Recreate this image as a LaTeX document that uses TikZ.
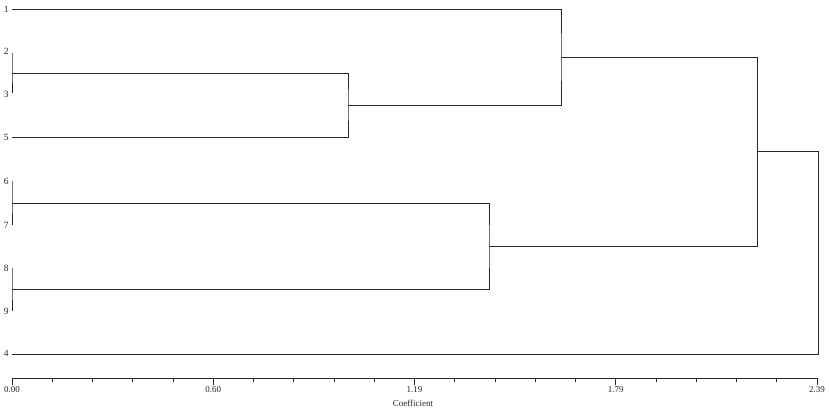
\documentclass[tikz,border=0pt]{standalone}
\usepackage{fontspec}
\setmainfont{Liberation Serif}
\usepackage{tikz}

\begin{document}
\begin{tikzpicture}[x=1pt, y=-1pt, line width=0.95pt, color=black!85,
    leaf/.style={anchor=east, inner sep=0pt, font=\fontsize{9.5}{10}\selectfont},
    ticklab/.style={inner sep=0pt, font=\fontsize{9}{10}\selectfont}]

    \useasboundingbox (0,0) rectangle (829,416);

    % Leaf labels
    \node[leaf] (lab1) at (9,9) {1};
    \node[leaf] (lab2) at (9,51) {2};
    \node[leaf] (lab3) at (9,94) {3};
    \node[leaf] (lab5) at (9,137) {5};
    \node[leaf] (lab6) at (9,181) {6};
    \node[leaf] (lab7) at (9,225) {7};
    \node[leaf] (lab8) at (9,268) {8};
    \node[leaf] (lab9) at (9,311) {9};
    \node[leaf] (lab4) at (9,353) {4};

    % Leaf ends
    \coordinate (s1) at (12,9);
    \coordinate (s2) at (12,53);
    \coordinate (s3) at (12,93);
    \coordinate (s5) at (12,137);
    \coordinate (s6) at (12,181);
    \coordinate (s7) at (12,225);
    \coordinate (s8) at (12,268);
    \coordinate (s9) at (12,311);
    \coordinate (s4) at (12,354);

    % Merge points
    \coordinate (m23) at (12,73);
    \coordinate (m235) at (348,105);
    \coordinate (m1235) at (561,57);
    \coordinate (m67) at (12,203);
    \coordinate (m89) at (12,289.5);
    \coordinate (m6789) at (489,246);
    \coordinate (m16789) at (757,151.5);
    \coordinate (root) at (818,252.5);

    % Branches
    \draw (s2) -| (m23) |- (s3);
    \draw (m23) -| (m235) |- (s5);
    \draw (s1) -| (m1235) |- (m235);
    \draw (s6) -| (m67) |- (s7);
    \draw (s8) -| (m89) |- (s9);
    \draw (m67) -| (m6789) |- (m89);
    \draw (m1235) -| (m16789) |- (m6789);
    \draw (m16789) -| (root) |- (s4);

    % Axis
    \draw (12,378) -- (817,378);
    \foreach \i in {0,...,20}
        \draw (12+40.25*\i,378) -- (12+40.25*\i,382);
    \foreach \i/\v in {0/0.00, 1/0.60, 2/1.19, 3/1.79, 4/2.39} {
        \draw (12+201.25*\i,378) -- (12+201.25*\i,385);
        \node[ticklab] (tick\i) at (12+201.25*\i,390) {\v};
    }
    \node[ticklab] (coef) at (413,403) {Coefficient};

\end{tikzpicture}
\end{document}
